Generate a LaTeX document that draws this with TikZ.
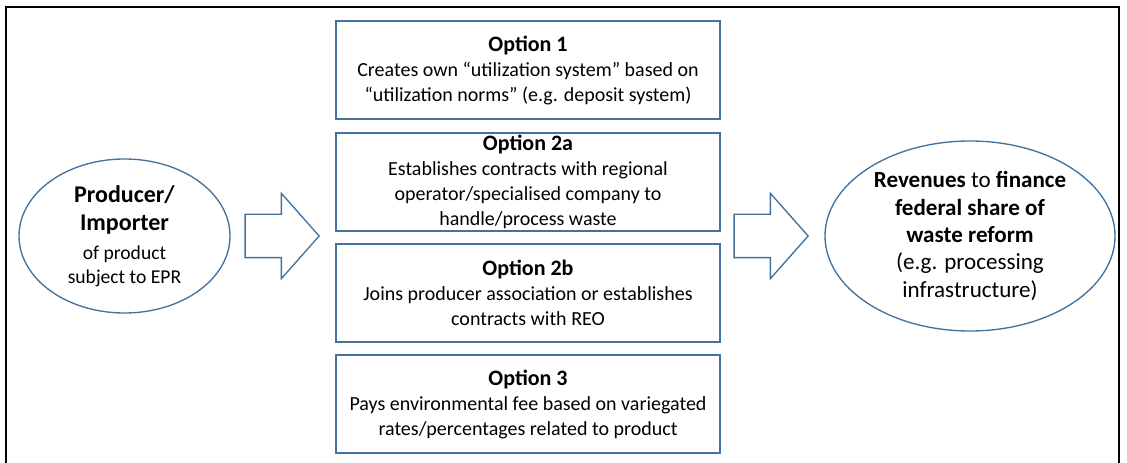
\documentclass[tikz,border=0pt]{standalone}
\usepackage{fontspec}
\setmainfont{Carlito}
\usetikzlibrary{shapes.geometric, shapes.arrows}
\definecolor{eprblue}{RGB}{65,113,156}
\tikzset{
  option box/.style={
    draw=eprblue,
    line width=1pt,
    minimum width=288pt,
    minimum height=73.5pt,
    inner sep=0pt,
    align=center,
    font=\fontsize{15}{18.75}\selectfont,
  },
  actor/.style={
    ellipse,
    draw=eprblue,
    line width=1pt,
    inner sep=0pt,
    align=center,
  },
  block arrow/.style={
    single arrow,
    draw=eprblue,
    line width=1pt,
    inner xsep=0pt,
    inner ysep=15.75pt,
    minimum height=55.5pt,
    single arrow head extend=15.75pt,
    single arrow tip angle=97,
    anchor=tip,
  },
}
\newcommand{\opthead}[1]{\fontsize{16.5}{18.75}\selectfont\bfseries #1}

\begin{document}
\begin{tikzpicture}[x=0.75pt, y=-0.75pt]
      \useasboundingbox (0,0) rectangle (1127,463);
      \draw[line width=1.5pt] (6,480) -- (6,7) -- (1119,7) -- (1119,480);

      \node[actor, minimum width=158.25pt, minimum height=115.5pt,
            font=\fontsize{14.7}{18}\selectfont] (producer) at (124.5,236)
            {{\fontsize{18}{18}\selectfont\bfseries Producer/}\\[3pt]
             {\fontsize{18}{18}\selectfont\bfseries Importer}\\[3.75pt]
             of product\\
             subject to EPR};

      \node[block arrow] (arrow1) at (320,236) {};

      \node[option box] (opt1)  at (528,70)
            {\opthead{Option 1}\\
             Creates own “utilization system” based on\\
             “utilization norms” (e.g. deposit system)};
      \node[option box] (opt2a) at (528,182)
            {\opthead{Option 2a}\\
             Establishes contracts with regional\\
             operator/specialised company to\\
             handle/process waste};
      \node[option box] (opt2b) at (528,293)
            {\opthead{Option 2b}\\
             Joins producer association or establishes\\
             contracts with REO};
      \node[option box] (opt3)  at (528,404)
            {\opthead{Option 3}\\
             Pays environmental fee based on variegated\\
             rates/percentages related to product};

      \node[block arrow] (arrow2) at (809,236) {};

      \node[actor, minimum width=217.5pt, minimum height=142.5pt,
            font=\fontsize{17.3}{20.6}\selectfont] (revenues) at (970,236)
            {\textbf{Revenues} to \textbf{finance}\\
             \textbf{federal share of}\\
             \textbf{waste reform}\\
             (e.g. processing\\
             infrastructure)};
\end{tikzpicture}
\end{document}
